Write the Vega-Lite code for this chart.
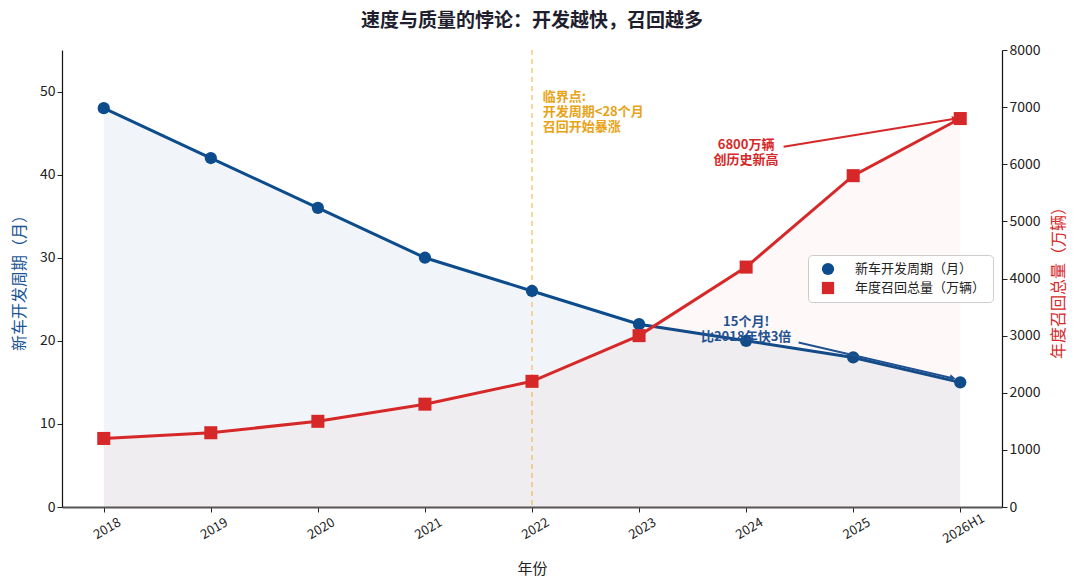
{
  "$schema": "https://vega.github.io/schema/vega-lite/v6.json",
  "width": 940,
  "height": 457,
  "autosize": {"type": "none"},
  "padding": {"left": 62, "top": 50, "right": 78, "bottom": 81},
  "title": {
    "text": "速度与质量的悖论：开发越快，召回越多",
    "fontSize": 19,
    "fontWeight": "bold",
    "color": "#1e1e2e",
    "anchor": "middle",
    "offset": 12
  },
  "config": {
    "font": "Noto Sans CJK SC",
    "view": {"stroke": null},
    "text": {"lineBreak": "\n"},
    "axis": {"labelColor": "#222", "tickColor": "#222", "titleFontWeight": "normal", "grid": false},
    "legend": {
      "title": null,
      "orient": "none",
      "legendX": 746,
      "legendY": 205,
      "labelFontSize": 13,
      "labelColor": "#222",
      "symbolSize": 150,
      "symbolOffset": 6,
      "rowPadding": 5,
      "padding": 7,
      "strokeColor": "#cccccc",
      "fillColor": "white",
      "cornerRadius": 4,
      "labelOffset": 20
    }
  },
  "data": {
    "values": [
      {"idx": 0, "year": "2018", "cycle": 48, "recall": 1200},
      {"idx": 1, "year": "2019", "cycle": 42, "recall": 1300},
      {"idx": 2, "year": "2020", "cycle": 36, "recall": 1500},
      {"idx": 3, "year": "2021", "cycle": 30, "recall": 1800},
      {"idx": 4, "year": "2022", "cycle": 26, "recall": 2200},
      {"idx": 5, "year": "2023", "cycle": 22, "recall": 3000},
      {"idx": 6, "year": "2024", "cycle": 20, "recall": 4200},
      {"idx": 7, "year": "2025", "cycle": 18, "recall": 5800},
      {"idx": 8, "year": "2026H1", "cycle": 15, "recall": 6800}
    ]
  },
  "encoding": {
    "x": {
      "field": "idx",
      "type": "quantitative",
      "scale": {"domain": [-0.39, 8.39], "nice": false, "zero": false},
      "axis": {
        "title": "年份",
        "titleFontSize": 15,
        "titleColor": "#222",
        "titlePadding": 16,
        "values": [0, 1, 2, 3, 4, 5, 6, 7, 8],
        "labelExpr": "['2018','2019','2020','2021','2022','2023','2024','2025','2026H1'][datum.value]",
        "labelAngle": -30,
        "labelAlign": "center",
        "labelBaseline": "top",
        "labelFontSize": 13,
        "labelPadding": 11,
        "labelFlush": false,
        "labelOverlap": false,
        "tickSize": 5,
        "domainColor": "#555",
        "domainWidth": 2.2
      }
    }
  },
  "layer": [
    {
      "encoding": {
        "y": {
          "field": "cycle",
          "type": "quantitative",
          "scale": {"domain": [0, 55], "nice": false, "zero": true},
          "axis": {
            "orient": "left",
            "title": "新车开发周期（月）",
            "titleColor": "#1a5496",
            "titleFontSize": 16,
            "titlePadding": 12,
            "values": [0, 10, 20, 30, 40, 50],
            "labelFontSize": 14,
            "tickSize": 5,
            "domainColor": "#111",
            "domainWidth": 1.2
          }
        }
      },
      "layer": [
        {"mark": {"type": "area", "color": "#0d4c8c", "opacity": 0.06}},
        {
          "data": {"values": [{"idx": 4}]},
          "mark": {"type": "rule", "color": "#f0b030", "opacity": 0.8, "strokeDash": [5, 4], "strokeWidth": 1.2},
          "encoding": {"y": null}
        },
        {"mark": {"type": "line", "color": "#0d4c8c", "strokeWidth": 3}},
        {
          "mark": {"type": "point", "filled": true, "opacity": 1, "size": 150},
          "encoding": {
            "color": {
              "datum": "新车开发周期（月）",
              "scale": {"domain": ["新车开发周期（月）", "年度召回总量（万辆）"], "range": ["#0d4c8c", "#d62828"]}
            },
            "shape": {
              "datum": "新车开发周期（月）",
              "scale": {"domain": ["新车开发周期（月）", "年度召回总量（万辆）"], "range": ["circle", "square"]}
            }
          }
        },
        {
          "data": {"values": [{"idx": 6.49, "cycle": 19.8}, {"idx": 7.93, "cycle": 15.5}]},
          "mark": {"type": "line", "color": "#1a5496", "strokeWidth": 2}
        },
        {
          "data": {"values": [{"idx": 7.93, "cycle": 15.5}]},
          "mark": {"type": "point", "shape": "triangle-right", "filled": true, "opacity": 1, "color": "#1a5496", "size": 45, "angle": 13}
        },
        {
          "data": {"values": [{"idx": 6.0, "cycle": 22.3, "label": "15个月!\n比2018年快3倍"}]},
          "mark": {"type": "text", "color": "#1a5496", "fontSize": 13, "fontWeight": "bold", "align": "center", "baseline": "middle", "lineHeight": 15},
          "encoding": {"text": {"field": "label"}}
        },
        {
          "data": {"values": [{"idx": 4.1, "cycle": 49.3, "label": "临界点:\n开发周期<28个月\n召回开始暴涨"}]},
          "mark": {"type": "text", "color": "#e8a317", "fontSize": 13, "fontWeight": "bold", "align": "left", "baseline": "middle", "lineHeight": 15},
          "encoding": {"text": {"field": "label"}}
        }
      ]
    },
    {
      "encoding": {
        "y": {
          "field": "recall",
          "type": "quantitative",
          "scale": {"domain": [0, 8000], "nice": false, "zero": true},
          "axis": {
            "orient": "right",
            "title": "年度召回总量（万辆）",
            "titleColor": "#d62828",
            "titleFontSize": 16,
            "titleAngle": 270,
            "titleBaseline": "top",
            "titlePadding": 10,
            "values": [0, 1000, 2000, 3000, 4000, 5000, 6000, 7000, 8000],
            "format": "d",
            "labelFontSize": 14,
            "tickSize": 5,
            "domainColor": "#111",
            "domainWidth": 1.2
          }
        }
      },
      "layer": [
        {"mark": {"type": "area", "color": "#d62828", "opacity": 0.03}},
        {"mark": {"type": "line", "color": "#d62828", "strokeWidth": 3}},
        {
          "mark": {"type": "point", "filled": true, "opacity": 1, "size": 170},
          "encoding": {
            "color": {"datum": "年度召回总量（万辆）"},
            "shape": {"datum": "年度召回总量（万辆）"}
          }
        },
        {
          "data": {"values": [{"idx": 6.35, "recall": 6305}, {"idx": 7.95, "recall": 6795}]},
          "mark": {"type": "line", "color": "#d62828", "strokeWidth": 2}
        },
        {
          "data": {"values": [{"idx": 7.95, "recall": 6795}]},
          "mark": {"type": "point", "shape": "triangle-right", "filled": true, "opacity": 1, "color": "#d62828", "size": 45, "angle": -9}
        },
        {
          "data": {"values": [{"idx": 6.0, "recall": 6337, "label": "6800万辆\n创历史新高"}]},
          "mark": {"type": "text", "color": "#d62828", "fontSize": 13, "fontWeight": "bold", "align": "center", "baseline": "middle", "lineHeight": 15},
          "encoding": {"text": {"field": "label"}}
        }
      ]
    }
  ],
  "resolve": {"scale": {"y": "independent"}}
}
